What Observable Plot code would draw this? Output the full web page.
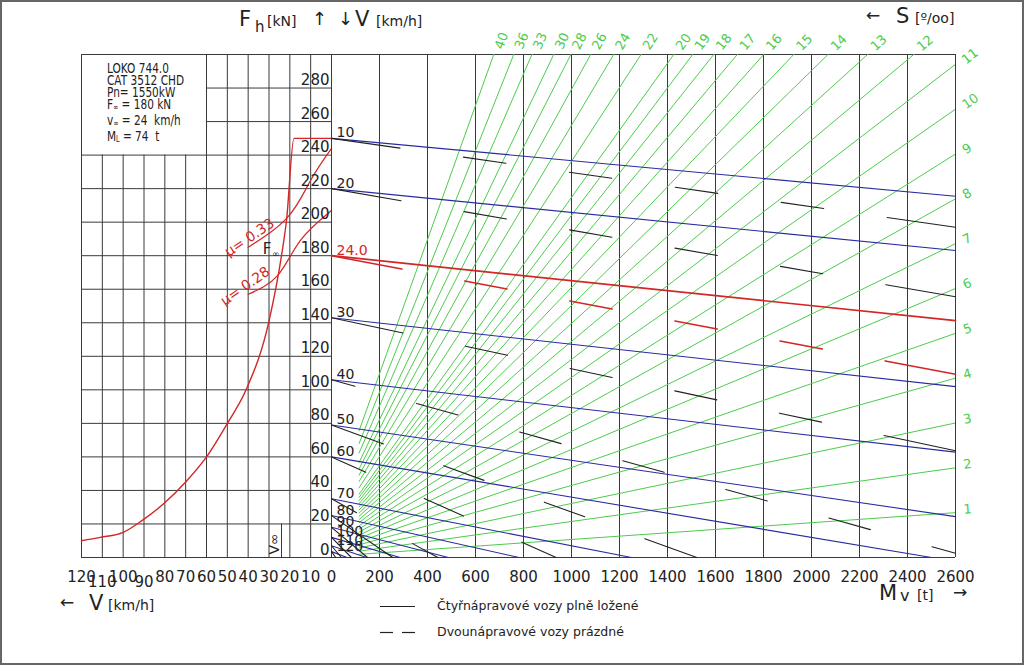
<!DOCTYPE html>
<html><head><meta charset="utf-8">
<script src="https://cdn.jsdelivr.net/npm/d3@7"></script>
<script src="https://cdn.jsdelivr.net/npm/@observablehq/plot@0.6"></script>
<style>
html,body{margin:0;padding:0;background:#fff;}
#page{position:relative;width:1024px;height:665px;overflow:hidden;font-family:"DejaVu Sans",sans-serif;color:#222;}
#page svg{position:absolute;left:0;top:0;overflow:visible;background:transparent;}
.t{position:absolute;white-space:nowrap;line-height:1;}
#border{position:absolute;left:0;top:0;width:1020px;height:661px;border:2px solid #666;}
#info{position:absolute;left:107px;top:62px;font-size:13.5px;line-height:12px;transform:scaleX(0.78);transform-origin:0 0;}
#info sub{font-size:8px;vertical-align:-1px;}
</style></head><body><div id="page"><div id="border"></div></div>
<script>
// ---------- data ----------
const massTicks = [0,200,400,600,800,1000,1200,1400,1600,1800,2000,2200,2400,2600];
const speedTicks = [0,10,20,30,40,50,60,70,80,90,100,110,120];
const speedAxisUpper = [120,100,80,70,60,50,40,30,20,10];
const speedAxisLower = [110,90];
const forceTicks = [0,20,40,60,80,100,120,140,160,180,200,220,240,260,280];
const grades = [1,2,3,4,5,6,7,8,9,10,11,12,13,14,15,16,17,18,19,20,22,24,26,28,30,33,36,40];
const locoMass = 74;          // t  (M_L)
const gradeFanStart = 115;    // t, where the grade lines begin
const massMax = 2600;

const lineSpeeds   = [10,20,24,30,40,50,60,70,80,90,100,110,120];
const lineLabels   = ["10","20","24.0","30","40","50","60","70","80","90","100","110","120"];
const lineStartF   = [250,220,180,143,106,79,60,35,25,18,12,7,3.5];       // kN at Mv = 0
const resistLoaded = [1.33,1.42,1.49,1.58,1.66,2.1,2.4,2.8,3.2,3.7,4.2,4.8,5.4];   // N/kN, four-axle loaded
const resistEmpty  = [2.04,2.48,2.72,3.05,3.98,5.19,6.41,7.9,9.8,12,14.5,17,20];  // N/kN, two-axle empty

const tractionV = [120,111,100,91,80.6,70,60,50,41,30,24,21.6,18,0];
const tractionF = [10,12,15,22,32,45,60,80,100,141,180,201,250,250];
const mu33V = [40,21,10,0];
const mu33F = [185,203,225,244];
const mu28V = [40,26,15,0];
const mu28F = [157,168,189,207];
const vInf = 24, fInf = 180;

// ---------- derived tables ----------
const W = 1024, H = 665;
const yMax = 300;
const pxPerKN = (557-54)/yMax, pxPerT = (955-331)/massMax;
const traction = tractionV.map((v,i)=>({v, f: tractionF[i]}));
const mu33 = mu33V.map((v,i)=>({v, f: mu33F[i]}));
const mu28 = mu28V.map((v,i)=>({v, f: mu28F[i]}));
const speedRows = lineSpeeds.map((v,i)=>({v, label: lineLabels[i], f0: lineStartF[i], wl: resistLoaded[i], we: resistEmpty[i]}));
// each resistance line runs from Mv = 0 until it meets F = 0 or the end of the mass scale
const segment = (r, w) => {
  const mEnd = Math.min(massMax, r.f0*100/w);
  return [{v: r.v, m: 0, f: r.f0}, {v: r.v, m: mEnd, f: r.f0 - w*mEnd/100}];
};
const screenLength = (seg) => Math.hypot((seg[1].m-seg[0].m)*pxPerT, (seg[1].f-seg[0].f)*pxPerKN);
// CAD-like dashed linetype: centred pattern, ends filled with a long dash
const DASH = 43, GAP = 64;
const cadDash = (L) => {
  const k = Math.floor((L - GAP - DASH)/(DASH + GAP));
  if (k < 0) return null;
  const e = (L - k*DASH - (k+1)*GAP)/2;
  const a = [e];
  for (let i = 0; i < k; i++) a.push(GAP, DASH);
  a.push(GAP, e + 2, 5000);
  return a.map(d => d.toFixed(1)).join(",");
};
const gradeForce = (s, m) => s*(locoMass+m)/100;
const gradeLines = grades.flatMap(s => [{s, m: gradeFanStart, f: gradeForce(s, gradeFanStart)}, {s, m: massMax, f: gradeForce(s, massMax)}]);
const gradeEnds = grades.map(s => {
  const mTop = yMax*100/s - locoMass;
  const top = mTop < massMax;
  return {s, m: top ? mTop : massMax, f: top ? yMax : gradeForce(s, massMax), top,
          rot: -Math.atan(s/100*pxPerKN/pxPerT)*180/Math.PI};
});

const BLUE = "#2a2aa0", RED = "#d42626", GREEN = "#4ccc4c", GRID = "#3a3a3a", INK = "#222";
const common = {width: W, height: H, marginTop: 54, marginBottom: H-557,
  y: {domain: [0, yMax], axis: null},
  style: {background: "transparent", fontFamily: "DejaVu Sans, sans-serif", color: INK, overflow: "visible"}};

// ---------- left panel: V [km/h] vs F [kN] ----------
const left = Plot.plot({...common,
  marginLeft: 81, marginRight: W-331,
  x: {domain: [120, 0], axis: null},
  marks: [
    Plot.ruleY(forceTicks.filter(f => f <= 240), {x1: 120, x2: 0, stroke: GRID}),
    Plot.ruleY(forceTicks.filter(f => f > 240), {x1: 60, x2: 0, stroke: GRID}),
    Plot.ruleY([yMax], {x1: 120, x2: 0, stroke: GRID}),
    Plot.ruleX(speedTicks.filter(v => v <= 60), {y1: 0, y2: yMax, stroke: GRID}),
    Plot.ruleX(speedTicks.filter(v => v > 60 && v < 120), {y1: 0, y2: 240, stroke: GRID}),
    Plot.ruleX([120], {y1: 0, y2: yMax, stroke: GRID}),
    Plot.ruleX([vInf], {y1: 0, y2: 20, stroke: GRID}),
    Plot.line(traction, {x: "v", y: "f", stroke: RED, strokeWidth: 1.4, curve: "monotone-x"}),
    Plot.line(mu33, {x: "v", y: "f", stroke: RED, strokeWidth: 1.2, curve: "natural"}),
    Plot.line(mu28, {x: "v", y: "f", stroke: RED, strokeWidth: 1.2, curve: "natural"}),
    Plot.text(["μ= 0.33"], {x: mu33V[0], y: mu33F[0], text: d => d, fill: RED, fontSize: 14, rotate: -34, textAnchor: "start", dx: -22, dy: 6}),
    Plot.text(["μ= 0.28"], {x: mu28V[0], y: mu28F[0], text: d => d, fill: RED, fontSize: 14, rotate: -35, textAnchor: "start", dx: -26, dy: 8}),
    Plot.text(["F"], {x: vInf, y: fInf, text: d => d, fontSize: 15, textAnchor: "end", lineAnchor: "bottom", dx: -10, dy: -2}),
    Plot.text(["∞"], {x: vInf, y: fInf, text: d => d, fontSize: 9, textAnchor: "end", lineAnchor: "bottom", dx: -2, dy: 1}),
    Plot.text(["V∞"], {x: vInf, y: 0, text: d => d, fontSize: 14, rotate: -90, textAnchor: "start", lineAnchor: "bottom", dx: -3, dy: -3}),
    Plot.text(forceTicks, {x: 0, y: d => d, text: d => String(d), fontSize: 15, textAnchor: "end", lineAnchor: "bottom", dx: -2, dy: -3}),
    Plot.text(speedAxisUpper, {x: d => d, y: 0, text: d => String(d), fontSize: 15, lineAnchor: "bottom", dy: 24}),
    Plot.text(speedAxisLower, {x: d => d, y: 0, text: d => String(d), fontSize: 15, lineAnchor: "bottom", dy: 29})
  ]
});

// ---------- right panel: Mv [t] vs F [kN] ----------
const solidMarks = speedRows.map(r => Plot.line(segment(r, r.wl), {x: "m", y: "f",
  stroke: r.v === vInf ? RED : BLUE, strokeWidth: r.v === vInf ? 1.7 : 1.1}));
const dashedMarks = speedRows.map(r => {
  const seg = segment(r, r.we);
  const pattern = cadDash(screenLength(seg));
  return Plot.line(seg, {x: "m", y: "f", stroke: r.v === vInf ? RED : INK,
    strokeWidth: r.v === vInf ? 1.6 : 1.1, ...(pattern ? {strokeDasharray: pattern} : {})});
});
const right = Plot.plot({...common,
  marginLeft: 331, marginRight: W-955,
  x: {domain: [0, massMax], axis: null},
  marks: [
    Plot.ruleX(massTicks, {y1: 0, y2: yMax, stroke: GRID}),
    Plot.ruleY([0, yMax], {x1: 0, x2: massMax, stroke: GRID}),
    Plot.line(gradeLines, {x: "m", y: "f", z: "s", stroke: GREEN, strokeWidth: 1, clip: true}),
    ...solidMarks,
    ...dashedMarks,
    Plot.text(speedRows, {x: 0, y: "f0", text: "label", fill: d => d.v === vInf ? RED : INK, fontSize: 14, textAnchor: "start", lineAnchor: "bottom", dx: 5, dy: -1}),
    Plot.text(gradeEnds.filter(d => d.top), {x: "m", y: "f", text: d => String(d.s), rotate: "rot", fill: GREEN, fontSize: 13, textAnchor: "start", lineAnchor: "middle", dx: 5, dy: -6}),
    Plot.text(gradeEnds.filter(d => !d.top), {x: "m", y: "f", text: d => String(d.s), rotate: "rot", fill: GREEN, fontSize: 13, textAnchor: "start", lineAnchor: "middle", dx: 8, dy: -3}),
    Plot.text(massTicks, {x: d => d, y: 0, text: d => String(d), fontSize: 15, lineAnchor: "bottom", dy: 24})
  ]
});

const page = document.getElementById("page");
page.appendChild(left);
page.appendChild(right);

// ---------- titles, info box, legend ----------
page.insertAdjacentHTML("beforeend", `
<div class="t" style="left:239px;top:9px;font-size:21px">F</div>
<div class="t" style="left:255px;top:20px;font-size:15px">h</div>
<div class="t" style="left:267px;top:14px;font-size:14px">[kN]</div>
<div class="t" style="left:312px;top:10px;font-size:18px">↑</div>
<div class="t" style="left:338px;top:10px;font-size:18px">↓</div>
<div class="t" style="left:355px;top:9px;font-size:21px">V</div>
<div class="t" style="left:376px;top:14px;font-size:14px">[km/h]</div>
<div class="t" style="left:866px;top:7px;font-size:17px">←</div>
<div class="t" style="left:896px;top:6px;font-size:21px">S</div>
<div class="t" style="left:915px;top:11px;font-size:14px">[º/oo]</div>
<div class="t" style="left:60px;top:594px;font-size:17px">←</div>
<div class="t" style="left:89px;top:593px;font-size:21px">V</div>
<div class="t" style="left:108px;top:598px;font-size:14px">[km/h]</div>
<div class="t" style="left:879px;top:583px;font-size:21px">M</div>
<div class="t" style="left:900px;top:588px;font-size:16px">v</div>
<div class="t" style="left:917px;top:588px;font-size:14px">[t]</div>
<div class="t" style="left:953px;top:584px;font-size:17px">→</div>
<div id="info">LOKO 744.0<br>CAT 3512 CHD<br>Pn= 1550kW<br>F<sub>∞</sub> = 180 kN<br>v<sub>∞</sub> = 24&nbsp; km/h<br>M<sub>L</sub> = 74&nbsp; t</div>
<svg width="1024" height="665" style="pointer-events:none">
  <line x1="380" x2="415" y1="606.5" y2="606.5" stroke="#222" stroke-width="1.2"/>
  <line x1="380" x2="393" y1="632.5" y2="632.5" stroke="#222" stroke-width="1.2"/>
  <line x1="402" x2="415" y1="632.5" y2="632.5" stroke="#222" stroke-width="1.2"/>
</svg>
<div class="t" style="left:437px;top:600px;font-size:12.5px">Čtyřnápravové vozy plně ložené</div>
<div class="t" style="left:437px;top:626px;font-size:12.5px">Dvounápravové vozy prázdné</div>
`);
</script>
</body></html>
